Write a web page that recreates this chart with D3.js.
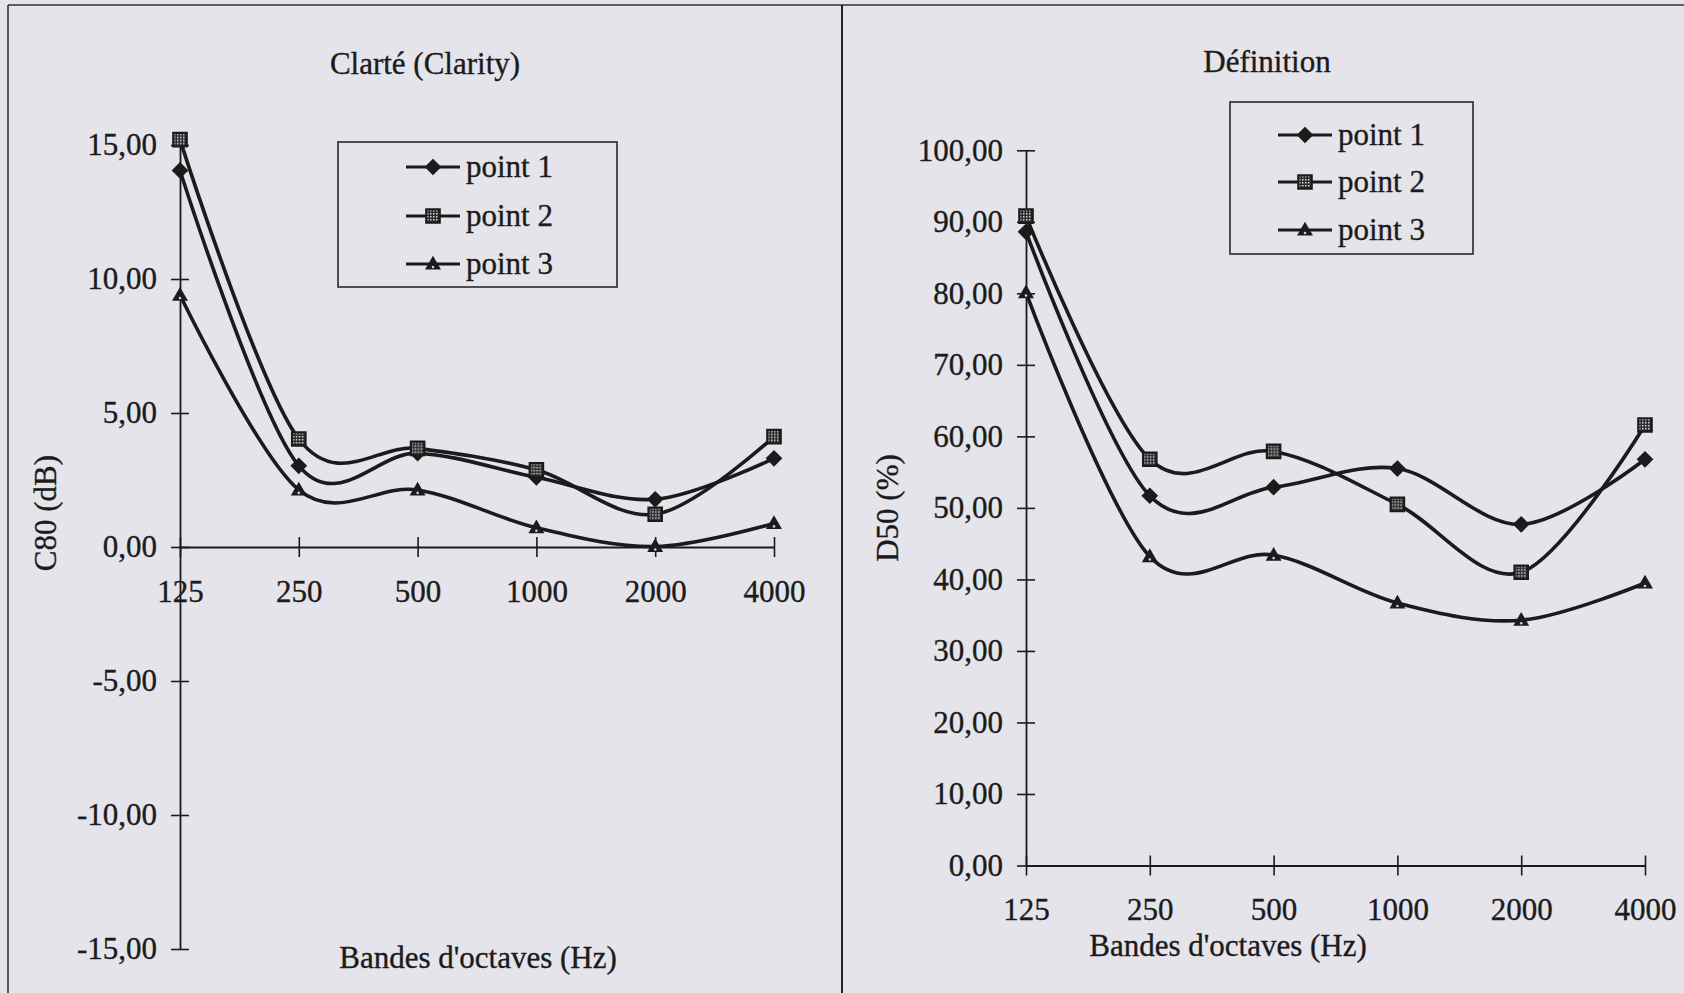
<!DOCTYPE html>
<html>
<head>
<meta charset="utf-8">
<script src="https://cdn.jsdelivr.net/npm/d3@7/dist/d3.min.js"></script>
<style>
  html, body { margin: 0; padding: 0; background: #e4e4ea; }
  svg { display: block; }
  text { font-family: "Liberation Serif", "Times New Roman", serif; fill: #1b1b1b; stroke: #1b1b1b; stroke-width: 0.35px; }
</style>
</head>
<body>
<script>
// ---------------- data ----------------
const bands = ["125", "250", "500", "1000", "2000", "4000"];
const seriesNames = ["point 1", "point 2", "point 3"];

const c80Point1 = [14.05, 3.03, 3.50, 2.60, 1.78, 3.31];
const c80Point2 = [15.20, 4.03, 3.68, 2.88, 1.22, 4.12];
const c80Point3 = [9.40, 2.13, 2.13, 0.72, 0.02, 0.88];
const c80Ticks = [15, 10, 5, 0, -5, -10, -15];

const d50Point1 = [88.6, 51.7, 52.9, 55.5, 47.7, 56.8];
const d50Point2 = [90.8, 56.8, 57.9, 50.5, 41.0, 61.6];
const d50Point3 = [80.1, 43.2, 43.4, 36.7, 34.3, 39.5];
const d50Ticks = [0, 10, 20, 30, 40, 50, 60, 70, 80, 90, 100];

// ---------------- setup ----------------
const W = 1684, H = 993;
const ink = "#1b1b1b";
const svg = d3.select("body").append("svg").attr("width", W).attr("height", H);

svg.append("rect").attr("width", W).attr("height", H).attr("fill", "#e4e4ea");

const defs = svg.append("defs");
const pat = defs.append("pattern").attr("id", "dots")
  .attr("width", 3).attr("height", 3).attr("patternUnits", "userSpaceOnUse");
pat.append("rect").attr("width", 3).attr("height", 3).attr("fill", "#2a2a2a");
pat.append("rect").attr("width", 1.5).attr("height", 1.5).attr("fill", "#d8d8de");

// panel frames
svg.append("line").attr("x1", 8).attr("x2", W).attr("y1", 5).attr("y2", 5)
  .attr("stroke", "#333").attr("stroke-width", 1.6);
svg.append("line").attr("x1", 8).attr("x2", 8).attr("y1", 5).attr("y2", H)
  .attr("stroke", "#333").attr("stroke-width", 1.6);
svg.append("line").attr("x1", 842).attr("x2", 842).attr("y1", 5).attr("y2", H)
  .attr("stroke", "#222").attr("stroke-width", 2);

const locale = d3.formatLocale({decimal: ",", thousands: " ", grouping: [3], currency: ["", ""], minus: "-"});
const fmt = locale.format(".2f");

const markerShapes = [
  d3.symbol().type(d3.symbolSquare).size(140),   // diamond (rotated square)
  d3.symbol().type(d3.symbolSquare).size(180),
  d3.symbol().type(d3.symbolTriangle).size(110)
];

function drawMarker(g, i, x, y) {
  if (i === 0) {
    g.append("path").attr("d", markerShapes[0]())
      .attr("transform", `translate(${x},${y}) rotate(45)`)
      .attr("fill", ink);
  } else if (i === 1) {
    g.append("path").attr("d", markerShapes[1]())
      .attr("transform", `translate(${x},${y})`)
      .attr("fill", "url(#dots)").attr("stroke", ink).attr("stroke-width", 2.2);
  } else {
    g.append("path").attr("d", markerShapes[2]())
      .attr("transform", `translate(${x},${y + 1})`)
      .attr("fill", ink);
    g.append("circle").attr("cx", x).attr("cy", y + 3).attr("r", 1.3).attr("fill", "#cfcfd6");
  }
}

function chart(cfg) {
  const g = svg.append("g");
  const x = d3.scalePoint().domain(bands).range([cfg.x0, cfg.x1]);
  const y = d3.scaleLinear().domain(cfg.yDomain).range([cfg.yBottom, cfg.yTop]);

  // y axis
  const ya = g.append("g").attr("transform", `translate(${cfg.x0},0)`)
    .call(d3.axisLeft(y).tickValues(cfg.ticks).tickFormat(fmt)
      .tickSizeInner(9).tickSizeOuter(0).tickPadding(14));
  ya.select(".domain").attr("stroke", ink).attr("stroke-width", 1.8);
  ya.selectAll(".tick line").attr("x1", 9).attr("x2", -9).attr("stroke", ink).attr("stroke-width", 1.6);
  ya.selectAll(".tick text").attr("font-size", 31).attr("fill", ink)
    .style("font-family", "'Liberation Serif', serif");

  // x axis at zero
  const xa = g.append("g").attr("transform", `translate(0,${y(0)})`)
    .call(d3.axisBottom(x).tickSizeInner(10).tickSizeOuter(0).tickPadding(cfg.xPad));
  xa.select(".domain").attr("stroke", ink).attr("stroke-width", 1.8);
  xa.selectAll(".tick line").attr("y1", -10).attr("y2", 10).attr("stroke", ink).attr("stroke-width", 1.6);
  xa.selectAll(".tick text").attr("font-size", 31).attr("fill", ink)
    .style("font-family", "'Liberation Serif', serif");

  // lines
  const line = d3.line()
    .x((d, i) => x(bands[i]))
    .y(d => y(d))
    .curve(d3.curveCatmullRom.alpha(0));
  cfg.series.forEach((vals) => {
    g.append("path").attr("d", line(vals)).attr("fill", "none")
      .attr("stroke", ink).attr("stroke-width", 3.6).attr("stroke-linejoin", "round");
  });
  cfg.series.forEach((vals, si) => {
    vals.forEach((v, i) => drawMarker(g, si, x(bands[i]), y(v)));
  });

  // title
  g.append("text").attr("x", cfg.titleX).attr("y", cfg.titleY).attr("text-anchor", "middle")
    .attr("font-size", 31).text(cfg.title);
  // axis titles
  g.append("text").attr("x", cfg.xTitleX).attr("y", cfg.xTitleY).attr("text-anchor", "middle")
    .attr("font-size", 31).text("Bandes d'octaves (Hz)");
  g.append("text").attr("transform", `translate(${cfg.yTitleX},${cfg.yTitleY}) rotate(-90)`)
    .attr("text-anchor", "middle").attr("font-size", 31).text(cfg.yTitle);

  // legend
  const lg = g.append("g");
  lg.append("rect").attr("x", cfg.leg.x).attr("y", cfg.leg.y).attr("width", cfg.leg.w).attr("height", cfg.leg.h)
    .attr("fill", "none").attr("stroke", "#2a2a2a").attr("stroke-width", 1.6);
  seriesNames.forEach((name, i) => {
    const yy = cfg.leg.rows[i];
    lg.append("line").attr("x1", cfg.leg.lx0).attr("x2", cfg.leg.lx1).attr("y1", yy).attr("y2", yy)
      .attr("stroke", ink).attr("stroke-width", 3);
    drawMarker(lg, i, (cfg.leg.lx0 + cfg.leg.lx1) / 2, yy);
    lg.append("text").attr("x", cfg.leg.tx).attr("y", yy + 10).attr("font-size", 31).text(name);
  });
}

chart({
  x0: 180, x1: 774,
  yDomain: [-15, 15], yBottom: 949, yTop: 145,
  ticks: c80Ticks,
  xPad: 23,
  series: [c80Point1, c80Point2, c80Point3],
  title: "Clarté (Clarity)", titleX: 425, titleY: 74,
  xTitleX: 478, xTitleY: 968,
  yTitle: "C80 (dB)", yTitleX: 56, yTitleY: 513,
  leg: {x: 338, y: 142, w: 279, h: 145, rows: [167, 216, 264], lx0: 406, lx1: 460, tx: 466}
});

chart({
  x0: 1026, x1: 1645,
  yDomain: [0, 100], yBottom: 865.5, yTop: 150.3,
  ticks: d50Ticks,
  xPad: 22,
  series: [d50Point1, d50Point2, d50Point3],
  title: "Définition", titleX: 1267, titleY: 72,
  xTitleX: 1228, xTitleY: 956,
  yTitle: "D50 (%)", yTitleX: 898, yTitleY: 508,
  leg: {x: 1230, y: 102, w: 243, h: 152, rows: [135, 182, 230], lx0: 1278, lx1: 1332, tx: 1338}
});
</script>
</body>
</html>
